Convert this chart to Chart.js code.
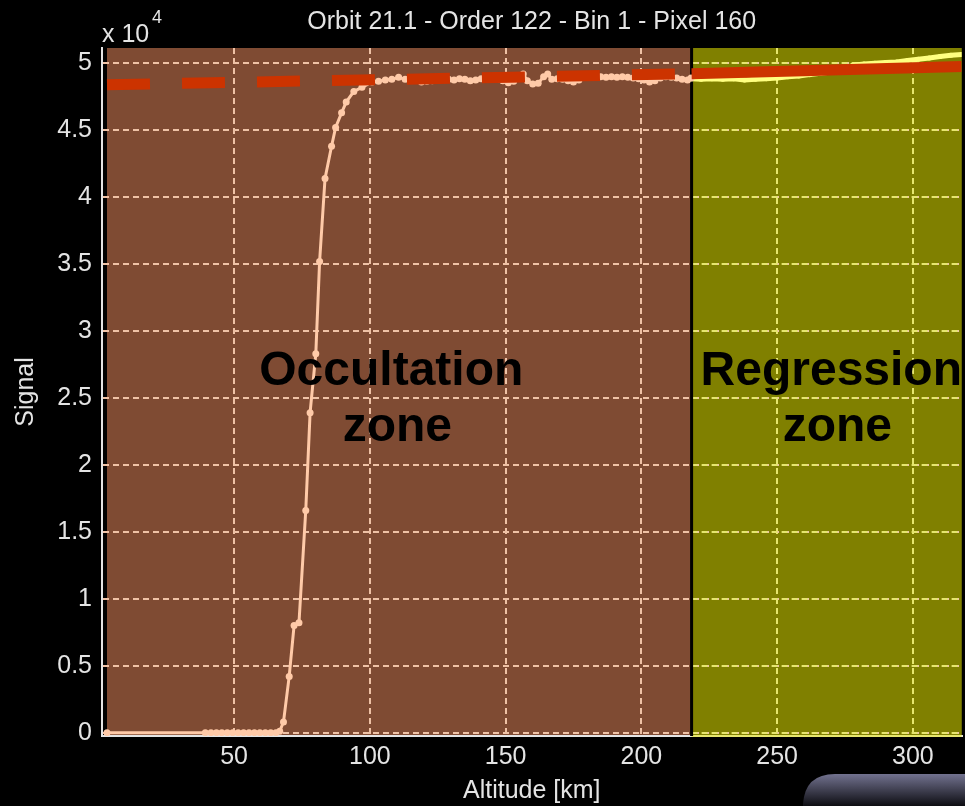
<!DOCTYPE html>
<html>
<head>
<meta charset="utf-8">
<style>
  html, body { margin:0; padding:0; background:#000; }
  #wrap { width:965px; height:806px; position:relative; }
</style>
<script src="https://cdn.jsdelivr.net/npm/chart.js@4.4.1/dist/chart.umd.min.js"></script>
</head>
<body>
<div id="wrap"><canvas id="c" width="965" height="806"></canvas></div>
<script>
// ── signal vs altitude, occultation + regression zones ──

// observed signal (x 10^4) in the occultation zone
var occAlt = [3.2, 39.4, 41.5, 43.5, 45.5, 47.5, 49.5, 51.5, 53.5, 55.5, 57.5, 59.5, 61.5, 63.5,
  65.4, 66.8, 68.2, 70.3, 72.1, 73.9, 76.4, 78.0, 80.1, 81.5, 83.5, 85.9, 87.4, 89.6, 91.3, 94.1,
  97.1, 100.8, 103.2, 105.7, 108.1, 110.6, 113, 115, 117, 119, 121, 123, 125, 127, 129, 131, 133,
  135, 137, 139, 141, 143, 145, 147, 149, 151, 153, 155, 156.5, 158, 160, 162, 164, 165.5, 167,
  169, 171, 173, 175, 177, 179, 181, 183, 185, 187, 189, 191, 193, 195, 197, 199, 201, 203, 205,
  207, 209, 211, 213, 215, 217, 218.3];
var occSig = [0, 0, 0, 0, 0, 0, 0, 0, 0, 0, 0, 0, 0, 0,
  0, 0.01, 0.08, 0.42, 0.80, 0.82, 1.66, 2.39, 2.83, 3.52, 4.14, 4.38, 4.52, 4.63, 4.71, 4.79,
  4.82, 4.86, 4.865, 4.875, 4.88, 4.895, 4.88, 4.885, 4.875, 4.86, 4.865, 4.87, 4.88, 4.885, 4.88, 4.875, 4.885,
  4.88, 4.87, 4.875, 4.885, 4.89, 4.885, 4.88, 4.87, 4.855, 4.865, 4.89, 4.92, 4.87, 4.845, 4.85, 4.9, 4.92, 4.88,
  4.885, 4.88, 4.87, 4.86, 4.875, 4.895, 4.9, 4.905, 4.9, 4.895, 4.9, 4.895, 4.9, 4.895, 4.89, 4.885, 4.875, 4.86, 4.87,
  4.89, 4.9, 4.895, 4.89, 4.88, 4.875, 4.89];

// observed signal in the regression zone
var regAlt = [218.5, 222, 226, 230, 234, 238, 242, 246, 250, 254, 258, 262, 266, 270, 274, 278,
  282, 286, 290, 294, 298, 302, 306, 310, 314, 318];
var regSig = [4.885, 4.88, 4.885, 4.88, 4.885, 4.875, 4.88, 4.885, 4.89, 4.90, 4.905, 4.915, 4.925,
  4.935, 4.955, 4.985, 4.995, 5.0, 5.005, 5.01, 5.02, 5.03, 5.04, 5.05, 5.06, 5.065];

// regression fit: extrapolated (dashed) and fitted (solid)
var fitDashAlt  = [3.2, 110, 218.5];
var fitDashSig  = [4.840, 4.880, 4.922];
var fitSolidAlt = [218.5, 318];
var fitSolidSig = [4.922, 4.976];

var xTicks = [50, 100, 150, 200, 250, 300];
var yTicks = [0, 0.5, 1, 1.5, 2, 2.5, 3, 3.5, 4, 4.5, 5];

// zone edges along altitude: occultation [0]-[1], regression [1]-[2]
var zoneEdges = [3.2, 218.5, 318];
var zoneLines = [['Occultation', 'zone'], ['Regression', 'zone']];

var FONT     = '"Liberation Sans", Arial, sans-serif';
var TXT      = '#e4e4e4';
var BROWN    = '#7f4b33';
var OLIVE    = '#808000';
var PEACH    = '#ffcaa8';
var GRID_P   = '#efc2a6';
var GRID_Y   = '#e6e66e';
var YELLOW   = '#ffff80';
var RED      = '#cc3300';

function pts(xs, ys) {
  return xs.map(function(x, i) { return { x: x, y: ys[i] }; });
}

var zonePlugin = {
  id: 'zones',
  beforeDraw: function(chart) {
    var ctx = chart.ctx, a = chart.chartArea, xs = chart.scales.x;
    var x0 = xs.getPixelForValue(zoneEdges[0]);
    var x1 = xs.getPixelForValue(zoneEdges[1]);
    var x2 = Math.max(xs.getPixelForValue(zoneEdges[2]), a.right);
    ctx.save();
    ctx.fillStyle = BROWN;
    ctx.fillRect(x0, a.top, x1 - x0, a.bottom - a.top);
    ctx.fillStyle = OLIVE;
    ctx.fillRect(x1, a.top, x2 - x1, a.bottom - a.top);
    ctx.restore();
  },
  beforeDatasetsDraw: function(chart) {
    var ctx = chart.ctx, a = chart.chartArea, xs = chart.scales.x, ys = chart.scales.y;
    var xb = xs.getPixelForValue(zoneEdges[1]);
    ctx.save();
    // grid of the second (regression) axes is yellow
    ctx.strokeStyle = GRID_Y;
    ctx.lineWidth = 2;
    ctx.setLineDash([6, 4]);
    yTicks.forEach(function(v) {
      var y = Math.round(ys.getPixelForValue(v));
      ctx.beginPath(); ctx.moveTo(xb, y); ctx.lineTo(a.right, y); ctx.stroke();
    });
    ctx.setLineDash([]);
    ctx.beginPath(); ctx.moveTo(xb, a.bottom); ctx.lineTo(a.right, a.bottom); ctx.stroke();
    // separator
    ctx.strokeStyle = '#000';
    ctx.lineWidth = 3;
    ctx.beginPath(); ctx.moveTo(xb, a.top); ctx.lineTo(xb, a.bottom); ctx.stroke();
    ctx.restore();
  },
  afterDraw: function(chart) {
    var ctx = chart.ctx, a = chart.chartArea, xs = chart.scales.x, ys = chart.scales.y;
    ctx.save();
    // exponent label
    ctx.fillStyle = TXT;
    ctx.textBaseline = 'alphabetic';
    ctx.textAlign = 'left';
    ctx.font = '25px ' + FONT;
    ctx.fillText('x 10', a.left, 42);
    ctx.font = '18px ' + FONT;
    ctx.fillText('4', a.left + 50, 23);

    // zone captions, centred in each zone
    ctx.fillStyle = '#000';
    ctx.font = 'bold 48px ' + FONT;
    ctx.textAlign = 'center';
    var yc = ys.getPixelForValue(2.6);
    var centres = [
      (xs.getPixelForValue(zoneEdges[0]) + xs.getPixelForValue(zoneEdges[1])) / 2,
      (xs.getPixelForValue(zoneEdges[1]) + chart.width) / 2 + 11
    ];
    zoneLines.forEach(function(lines, i) {
      ctx.fillText(lines[0], centres[i] - 8, yc);
      ctx.fillText(lines[1], centres[i] - 2, yc + 56);
    });

    // slide decoration, bottom right
    var g = ctx.createLinearGradient(0, 774, 0, 806);
    g.addColorStop(0, '#72728f');
    g.addColorStop(1, '#0d0d12');
    ctx.fillStyle = g;
    ctx.beginPath();
    ctx.moveTo(803, 806);
    ctx.lineTo(803, 804);
    ctx.quadraticCurveTo(805, 774, 835, 774);
    ctx.lineTo(965, 774);
    ctx.lineTo(965, 806);
    ctx.closePath();
    ctx.fill();
    ctx.restore();
  }
};

Chart.defaults.font.family = FONT;
Chart.defaults.font.size = 25;
Chart.defaults.color = TXT;

// datasets listed top-most first (Chart.js paints the list back to front)
new Chart(document.getElementById('c').getContext('2d'), {
  type: 'line',
  data: {
    datasets: [
      {
        label: 'Fit (extrapolated)',
        data: pts(fitDashAlt, fitDashSig),
        borderColor: RED, borderWidth: 11, borderDash: [43, 32],
        borderCapStyle: 'butt', tension: 0, pointRadius: 0
      },
      {
        label: 'Fit',
        data: pts(fitSolidAlt, fitSolidSig),
        borderColor: RED, borderWidth: 11,
        borderCapStyle: 'butt', tension: 0, pointRadius: 0
      },
      {
        label: 'Occultation signal',
        data: pts(occAlt, occSig),
        borderColor: PEACH, backgroundColor: PEACH,
        borderWidth: 3, tension: 0,
        pointRadius: 3.5, pointHoverRadius: 0, pointBorderWidth: 0,
        pointBackgroundColor: PEACH
      },
      {
        label: 'Regression signal',
        data: pts(regAlt, regSig),
        borderColor: YELLOW, backgroundColor: YELLOW,
        borderWidth: 5, tension: 0,
        pointRadius: 2.5, pointHoverRadius: 0, pointBorderWidth: 0,
        pointBackgroundColor: YELLOW
      }
    ]
  },
  options: {
    responsive: false,
    animation: false,
    devicePixelRatio: 1,
    layout: { padding: 0 },
    plugins: {
      legend: { display: false },
      tooltip: { enabled: false },
      title: {
        display: true,
        text: 'Orbit 21.1 - Order 122 - Bin 1 - Pixel 160',
        color: TXT,
        fullSize: false,
        font: { size: 25, weight: 'normal', lineHeight: 1.2 },
        padding: { top: 7, bottom: 11 }
      }
    },
    scales: {
      x: {
        type: 'linear',
        min: 1.36, max: 317.9,
        afterBuildTicks: function(s) { s.ticks = xTicks.map(function(v) { return { value: v }; }); },
        afterFit: function(s) { s.height = 70; },
        ticks: { color: TXT, padding: 6, maxRotation: 0, font: { size: 25, lineHeight: 1.2 } },
        grid: {
          drawTicks: false, lineWidth: 2,
          color: function(c) { return c.tick && c.tick.value > zoneEdges[1] ? GRID_Y : GRID_P; }
        },
        border: { display: true, color: '#e4e4e4', width: 2, dash: [6, 4] },
        title: { display: true, text: 'Altitude [km]', color: TXT,
          font: { size: 25, lineHeight: 1.2 }, padding: { top: 0, bottom: 0 } }
      },
      y: {
        min: -0.025, max: 5.114,
        afterBuildTicks: function(s) { s.ticks = yTicks.map(function(v) { return { value: v }; }); },
        afterFit: function(s) { s.width = 102; },
        ticks: { color: TXT, padding: 10, callback: function(v) { return String(v); } },
        grid: { drawTicks: false, lineWidth: 2, color: GRID_P },
        border: { display: true, color: '#e4e4e4', width: 2, dash: [6, 4] },
        title: { display: true, text: 'Signal', color: TXT,
          font: { size: 25, lineHeight: 1.2 }, padding: { top: 11, bottom: 0 } }
      }
    }
  },
  plugins: [zonePlugin]
});
</script>
</body>
</html>
